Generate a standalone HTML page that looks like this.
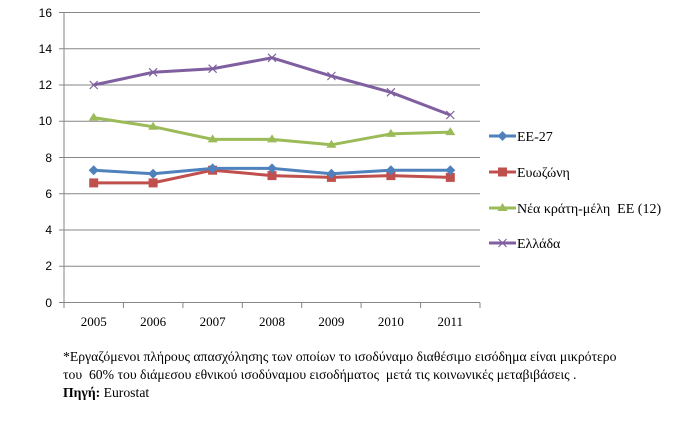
<!DOCTYPE html>
<html><head><meta charset="utf-8"><style>
body{margin:0;background:#fff;width:681px;height:433px;overflow:hidden}
svg{position:absolute;left:0;top:0}
.note{position:absolute;left:63px;font-family:"Liberation Serif",serif;font-size:13.7px;color:#000;white-space:pre}
</style></head><body>
<svg width="681" height="433" xmlns="http://www.w3.org/2000/svg">
<g stroke="#868686" stroke-width="1">
<line x1="64" y1="12.5" x2="480" y2="12.5"/>
<line x1="64" y1="48.75" x2="480" y2="48.75"/>
<line x1="64" y1="85" x2="480" y2="85"/>
<line x1="64" y1="121.25" x2="480" y2="121.25"/>
<line x1="64" y1="157.5" x2="480" y2="157.5"/>
<line x1="64" y1="193.75" x2="480" y2="193.75"/>
<line x1="64" y1="230" x2="480" y2="230"/>
<line x1="64" y1="266.25" x2="480" y2="266.25"/>
<line x1="64" y1="302.5" x2="480" y2="302.5"/>
<line x1="64" y1="12.5" x2="64" y2="302.5"/>
<line x1="59" y1="12.5" x2="64" y2="12.5"/><line x1="59" y1="48.75" x2="64" y2="48.75"/><line x1="59" y1="85" x2="64" y2="85"/><line x1="59" y1="121.25" x2="64" y2="121.25"/><line x1="59" y1="157.5" x2="64" y2="157.5"/><line x1="59" y1="193.75" x2="64" y2="193.75"/><line x1="59" y1="230" x2="64" y2="230"/><line x1="59" y1="266.25" x2="64" y2="266.25"/><line x1="59" y1="302.5" x2="64" y2="302.5"/>
<line x1="64" y1="302.5" x2="64" y2="308"/><line x1="123.4" y1="302.5" x2="123.4" y2="308"/><line x1="182.9" y1="302.5" x2="182.9" y2="308"/><line x1="242.3" y1="302.5" x2="242.3" y2="308"/><line x1="301.7" y1="302.5" x2="301.7" y2="308"/><line x1="361.1" y1="302.5" x2="361.1" y2="308"/><line x1="420.6" y1="302.5" x2="420.6" y2="308"/><line x1="480" y1="302.5" x2="480" y2="308"/>
</g>
<g font-family="Liberation Sans,sans-serif" font-size="12" fill="#000" text-anchor="end">
<text x="52" y="17">16</text><text x="52" y="53">14</text><text x="52" y="89">12</text><text x="52" y="125">10</text><text x="52" y="162">8</text><text x="52" y="198">6</text><text x="52" y="234">4</text><text x="52" y="270">2</text><text x="52" y="307">0</text>
</g>
<g font-family="Liberation Serif,serif" font-size="13" fill="#000" text-anchor="middle">
<text x="93.7" y="326">2005</text><text x="153.1" y="326">2006</text><text x="212.6" y="326">2007</text><text x="272" y="326">2008</text><text x="331.4" y="326">2009</text><text x="390.9" y="326">2010</text><text x="450.3" y="326">2011</text>
</g>
<polyline fill="none" stroke="#7f5fa0" stroke-width="3" points="93.7,85 153.1,72.3 212.6,68.7 272,57.8 331.4,76 390.9,92.3 450.3,115"/>
<g stroke="#7f5fa0" stroke-width="1.2">
<path d="M89.7,81l8,8m0,-8l-8,8"/><path d="M149.1,68.3l8,8m0,-8l-8,8"/><path d="M208.6,64.7l8,8m0,-8l-8,8"/><path d="M268,53.8l8,8m0,-8l-8,8"/><path d="M327.4,72l8,8m0,-8l-8,8"/><path d="M386.9,88.3l8,8m0,-8l-8,8"/><path d="M446.3,111l8,8m0,-8l-8,8"/>
</g>
<polyline fill="none" stroke="#9bbb59" stroke-width="3" points="93.7,117.6 153.1,126.7 212.6,139.4 272,139.4 331.4,144.8 390.9,133.9 450.3,132.1"/>
<g fill="#9bbb59">
<path d="M93.7,112.6l5,8h-10z"/><path d="M153.1,121.7l5,8h-10z"/><path d="M212.6,134.4l5,8h-10z"/><path d="M272,134.4l5,8h-10z"/><path d="M331.4,139.8l5,8h-10z"/><path d="M390.9,128.9l5,8h-10z"/><path d="M450.3,127.1l5,8h-10z"/>
</g>
<polyline fill="none" stroke="#c0504d" stroke-width="3" points="93.7,182.9 153.1,182.9 212.6,170.2 272,175.6 331.4,177.4 390.9,175.6 450.3,177.4"/>
<g fill="#c0504d">
<rect x="89.2" y="178.4" width="9" height="9"/><rect x="148.6" y="178.4" width="9" height="9"/><rect x="208.1" y="165.7" width="9" height="9"/><rect x="267.5" y="171.1" width="9" height="9"/><rect x="326.9" y="172.9" width="9" height="9"/><rect x="386.4" y="171.1" width="9" height="9"/><rect x="445.8" y="172.9" width="9" height="9"/>
</g>
<polyline fill="none" stroke="#4f81bd" stroke-width="3" points="93.7,170.2 153.1,173.8 212.6,168.4 272,168.4 331.4,173.8 390.9,170.2 450.3,170.2"/>
<g fill="#4f81bd">
<path d="M93.7,165.2l5,5l-5,5l-5,-5z"/><path d="M153.1,168.8l5,5l-5,5l-5,-5z"/><path d="M212.6,163.4l5,5l-5,5l-5,-5z"/><path d="M272,163.4l5,5l-5,5l-5,-5z"/><path d="M331.4,168.8l5,5l-5,5l-5,-5z"/><path d="M390.9,165.2l5,5l-5,5l-5,-5z"/><path d="M450.3,165.2l5,5l-5,5l-5,-5z"/>
</g>
<line x1="489" y1="136" x2="516" y2="136" stroke="#4f81bd" stroke-width="3"/><path d="M502.5,131l5,5l-5,5l-5,-5z" fill="#4f81bd"/>
<line x1="489" y1="172" x2="516" y2="172" stroke="#c0504d" stroke-width="3"/><rect x="498" y="167.5" width="9" height="9" fill="#c0504d"/>
<line x1="489" y1="208" x2="516" y2="208" stroke="#9bbb59" stroke-width="3"/><path d="M502.5,203l5,8h-10z" fill="#9bbb59"/>
<line x1="489" y1="243" x2="516" y2="243" stroke="#7f5fa0" stroke-width="3"/><path d="M498.5,239l8,8m0,-8l-8,8" stroke="#7f5fa0" stroke-width="1.2"/>
<g font-family="Liberation Serif,serif" font-size="14" fill="#000">
<text x="517" y="141">ΕΕ-27</text><text x="517" y="177">Ευωζώνη</text><text x="517" y="213" xml:space="preserve">Νέα κράτη-μέλη  ΕΕ (12)</text><text x="517" y="248">Ελλάδα</text>
</g>
</svg>
<div class="note" style="top:349px">*Εργαζόμενοι πλήρους απασχόλησης των οποίων το ισοδύναμο διαθέσιμο εισόδημα είναι μικρότερο</div>
<div class="note" style="top:367px">του  60% του διάμεσου εθνικού ισοδύναμου εισοδήματος  μετά τις κοινωνικές μεταβιβάσεις .</div>
<div class="note" style="top:385px"><b>Πηγή:</b> Eurostat</div>
</body></html>
